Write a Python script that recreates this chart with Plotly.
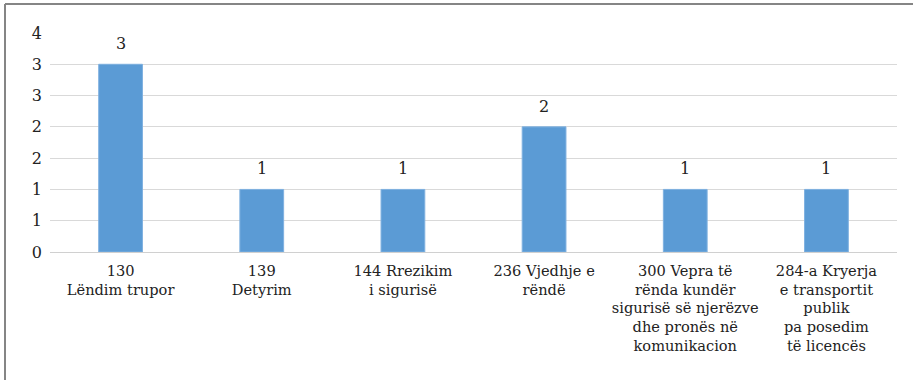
import plotly.graph_objects as go

categories = [
    "130<br>Lëndim trupor",
    "139<br>Detyrim",
    "144 Rrezikim<br>i sigurisë",
    "236 Vjedhje e<br>rëndë",
    "300 Vepra të<br>rënda kundër<br>sigurisë së njerëzve<br>dhe pronës në<br>komunikacion",
    "284-a Kryerja<br>e transportit<br>publik<br>pa posedim<br>të licencës",
]
values = [3, 1, 1, 2, 1, 1]
tick_vals = [0, 0.5, 1, 1.5, 2, 2.5, 3, 3.5]
tick_text = ["0", "1", "1", "2", "2", "3", "3", "4"]

font_family = "DejaVu Serif"

fig = go.Figure(
    go.Bar(
        x=categories,
        y=values,
        marker=dict(color="#5b9bd5", line=dict(color="#7fb1e0", width=1)),
        cliponaxis=False,
        hoverinfo="skip",
    )
)

for c, v in zip(categories, values):
    fig.add_annotation(
        x=c, y=v, text=str(v), showarrow=False,
        yanchor="bottom", yshift=9,
        font=dict(family=font_family, size=16, color="#222"),
    )

fig.update_layout(
    width=913,
    height=380,
    margin=dict(l=50, r=16, t=33, b=128),
    paper_bgcolor="white",
    plot_bgcolor="white",
    bargap=0.69,
    showlegend=False,
    font=dict(family=font_family, size=15, color="#222"),
    xaxis=dict(
        showgrid=False,
        showline=True,
        linecolor="#d0d0d0",
        linewidth=1,
        ticks="",
        tickangle=0,
        ticklabelstandoff=5,
        tickfont=dict(family=font_family, size=14.6, color="#222"),
    ),
    yaxis=dict(
        range=[0, 3.5],
        tickvals=tick_vals,
        ticktext=tick_text,
        showgrid=True,
        gridcolor="#d9d9d9",
        gridwidth=1,
        zeroline=False,
        showline=False,
        ticks="",
        ticklabelstandoff=7,
        tickfont=dict(family=font_family, size=16, color="#222"),
    ),
    shapes=[
        dict(
            type="line", xref="paper", yref="paper",
            x0=(5 - 50) / 847, x1=(913 - 50) / 847,
            y0=(252 - 4) / 219, y1=(252 - 4) / 219,
            line=dict(color="#858585", width=2),
        ),
        dict(
            type="line", xref="paper", yref="paper",
            x0=(5 - 50) / 847, x1=(5 - 50) / 847,
            y0=(252 - 4) / 219, y1=(252 - 380) / 219,
            line=dict(color="#858585", width=2),
        ),
    ],
)

fig.write_html(
    "out.html",
    config={"displayModeBar": False},
    post_script="document.body.style.margin='0';document.body.style.overflow='hidden';",
)
